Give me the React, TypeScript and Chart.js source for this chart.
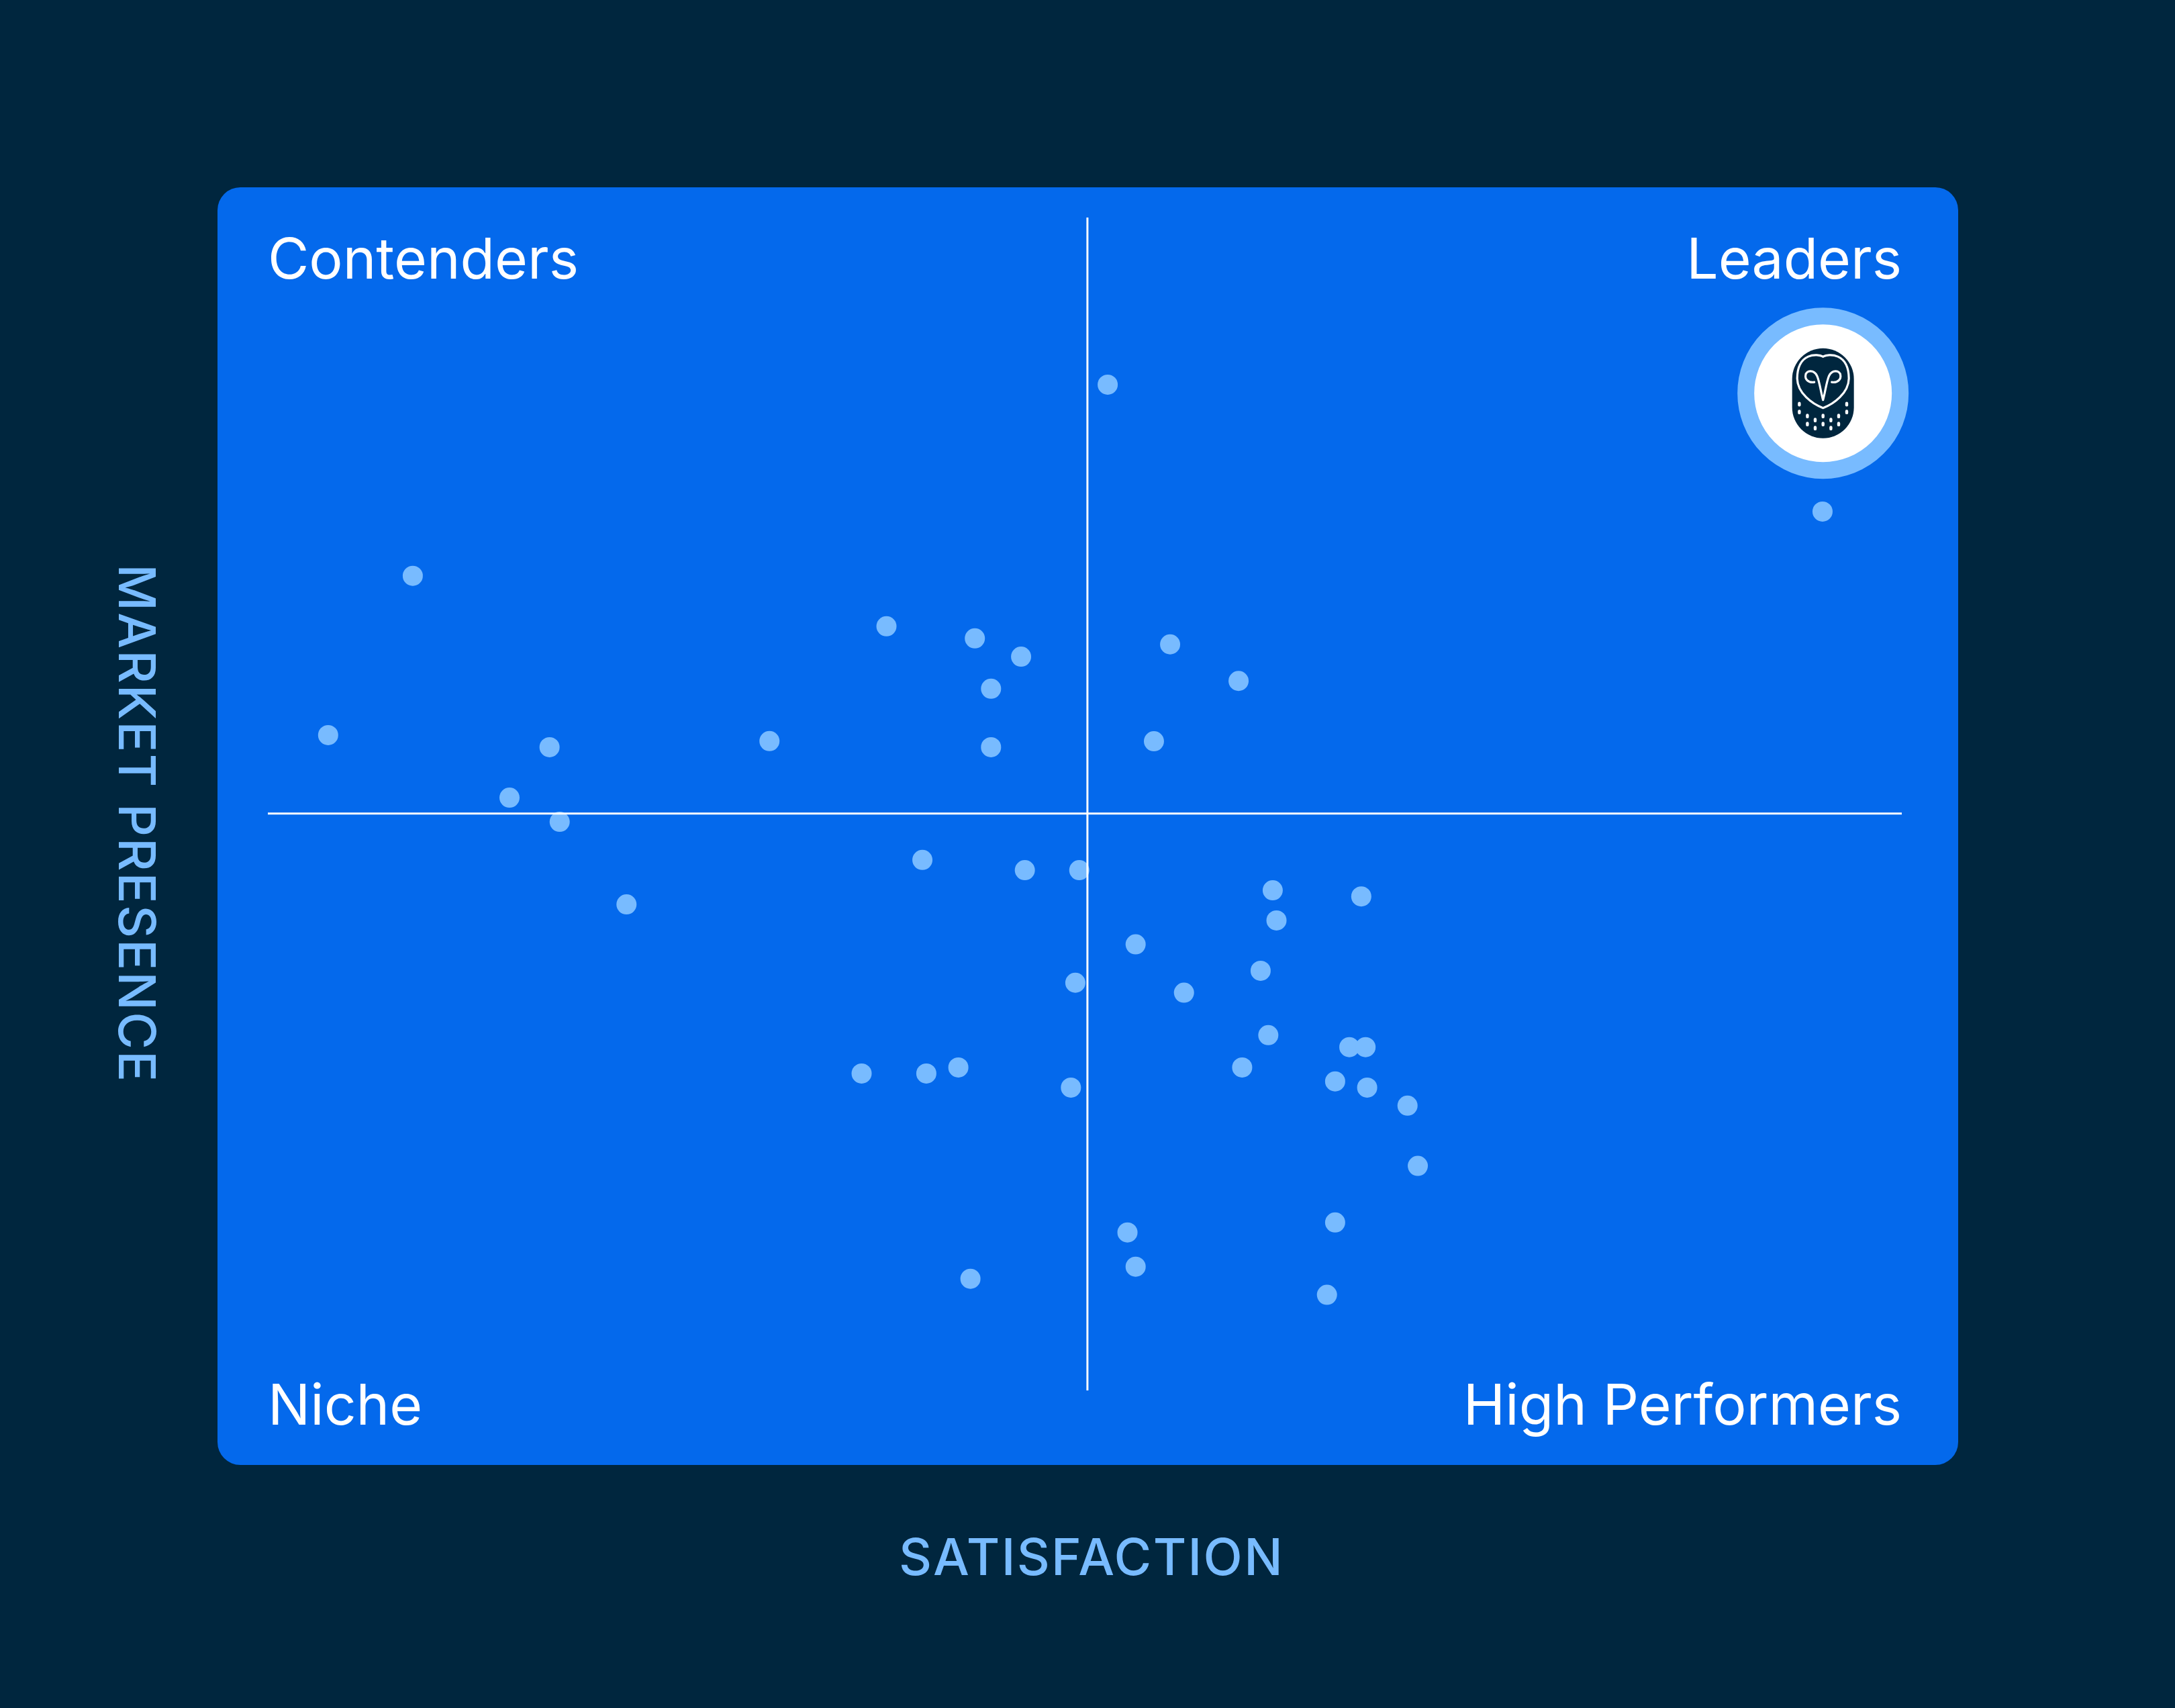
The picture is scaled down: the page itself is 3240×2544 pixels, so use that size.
import React, { useEffect, useRef } from "react";
import { Chart, registerables } from "chart.js";

Chart.register(...registerables);

const vendorSatisfaction = [51.40,95.15,8.87,37.86,43.27,46.10,55.22,59.41,44.26,3.69,17.24,30.70,44.26,54.23,14.79,17.86,21.95,40.06,46.33,49.66,61.50,66.92,61.73,53.11,49.42,56.07,60.76,61.23,66.19,67.18,59.63,65.32,67.28,49.15,69.75,36.34,40.30,42.26,70.38,65.32,52.61,53.11,43.00,64.82];
const vendorPresence = [85.75,74.93,69.45,65.15,64.12,62.56,63.61,60.49,59.83,55.87,54.84,55.36,54.84,55.35,50.54,48.48,41.44,45.23,44.36,44.36,42.64,42.12,40.07,38.03,34.76,33.91,35.78,30.29,29.27,29.27,27.54,26.35,25.82,25.82,24.28,27.02,27.02,27.54,19.14,14.32,13.47,10.55,9.52,8.15];
const leaderSatisfaction = [95.18];
const leaderPresence = [85.02];
const splitSatisfaction = 50.16;
const splitPresence = 49.18;
const quadrantNames = ["Contenders", "Leaders", "Niche", "High Performers"];
const xTitle = "SATISFACTION";
const yTitle = "MARKET PRESENCE";

const BG = "#00263E";
const PANEL = "#0469EC";
const LIGHT = "#78BBFF";

const backdrop = {
  id: "backdrop",
  beforeDraw(chart: any) {
    const { ctx, width, height } = chart;
    ctx.save();
    ctx.fillStyle = BG;
    ctx.fillRect(0, 0, width, height);
    ctx.fillStyle = PANEL;
    ctx.beginPath();
    ctx.roundRect(324, 279, 2593, 1903, 34);
    ctx.fill();
    ctx.restore();
  },
  afterDraw(chart: any) {
    const { ctx, chartArea: a } = chart;
    ctx.save();
    ctx.fillStyle = "#FFFFFF";
    ctx.font = '400 84px Inter';
    ctx.textBaseline = "alphabetic";
    ctx.textAlign = "left";
    ctx.fillText(quadrantNames[0], a.left, 415);
    ctx.fillText(quadrantNames[2], a.left, 2122);
    ctx.textAlign = "right";
    ctx.fillText(quadrantNames[1], a.right, 415);
    ctx.fillText(quadrantNames[3], a.right, 2122);

    ctx.fillStyle = LIGHT;
    ctx.font = '500 76px Inter';
    (ctx as any).letterSpacing = "2.3px";
    ctx.textAlign = "center";
    ctx.fillText(xTitle, 1626, 2346);
    ctx.translate(177, 1227);
    ctx.rotate(Math.PI / 2);
    ctx.fillText(yTitle, 0, 0);
    ctx.restore();

    // owl badge on the highlighted point
    const el = chart.getDatasetMeta(3).data[0];
    ctx.save();
    ctx.translate(el.x, el.y);
    ctx.fillStyle = BG;
    ctx.beginPath();
    ctx.roundRect(-46, -67, 92, 134, 46);
    ctx.fill();
    ctx.strokeStyle = "#FFFFFF";
    ctx.lineWidth = 3.2;
    ctx.lineCap = "round";
    ctx.lineJoin = "round";
    ctx.beginPath();
    ctx.moveTo(0, -54.5);
    ctx.bezierCurveTo(-8, -59, -38, -61, -38.5, -22);
    ctx.bezierCurveTo(-38, 0, -16, 16, 0, 22);
    ctx.bezierCurveTo(16, 16, 38, 0, 38.5, -22);
    ctx.bezierCurveTo(38, -61, 8, -59, 0, -54.5);
    ctx.stroke();
    ctx.beginPath();
    ctx.moveTo(-13, -16.5);
    ctx.bezierCurveTo(-22, -15, -27, -21, -26, -27);
    ctx.bezierCurveTo(-25, -34, -14, -36, -9, -26);
    ctx.bezierCurveTo(-5, -17, -3, 0, 0, 10);
    ctx.bezierCurveTo(3, 0, 5, -17, 9, -26);
    ctx.bezierCurveTo(14, -36, 25, -34, 26, -27);
    ctx.bezierCurveTo(27, -21, 22, -15, 13, -16.5);
    ctx.stroke();
    ctx.fillStyle = "#FFFFFF";
    const spots = [[-35.3,16.3],[-35.3,28],[35.3,16.3],[35.3,28],[-23.3,34],[-23.3,46],[23.3,34],[23.3,46],[-11.7,40],[-11.7,52],[11.7,40],[11.7,52],[0,34],[0,46]];
    for (const [sx, sy] of spots) {
      ctx.beginPath();
      ctx.roundRect(sx - 2.2, sy - 3.4, 4.4, 6.8, 2.2);
      ctx.fill();
    }
    ctx.restore();
  },
};

export default function App() {
  const ref = useRef<HTMLCanvasElement>(null);
  useEffect(() => {
    const chart = new Chart(ref.current!, {
      type: "scatter",
      data: {
        datasets: [
          { label: "Market presence split", data: [{ x: 0, y: splitPresence }, { x: 100, y: splitPresence }], showLine: true, borderColor: "#FFFFFF", borderWidth: 3, pointRadius: 0 },
          { label: "Satisfaction split", data: [{ x: splitSatisfaction, y: 0 }, { x: splitSatisfaction, y: 100 }], showLine: true, borderColor: "#FFFFFF", borderWidth: 3, pointRadius: 0 },
          { label: "Vendors", data: vendorSatisfaction.map((x, i) => ({ x, y: vendorPresence[i] })), backgroundColor: LIGHT, borderWidth: 0, pointRadius: 15, clip: false },
          { label: "Highlighted vendor", data: leaderSatisfaction.map((x, i) => ({ x, y: leaderPresence[i] })), backgroundColor: "#FFFFFF", borderColor: LIGHT, borderWidth: 25, pointRadius: 115, clip: false },
        ],
      },
      options: {
        animation: false,
        responsive: false,
        devicePixelRatio: 1,
        layout: { padding: { left: 399, right: 407, top: 324, bottom: 473 } },
        plugins: { legend: { display: false }, tooltip: { enabled: false }, title: { display: false } },
        scales: {
          x: { type: "linear", min: 0, max: 100, display: false },
          y: { type: "linear", min: 0, max: 100, display: false },
        },
      },
      plugins: [backdrop],
    } as any);
    return () => chart.destroy();
  }, []);
  return (
    <canvas
      ref={ref}
      width={3240}
      height={2544}
      style={{ position: "absolute", left: 0, top: 0, width: 3240, height: 2544, display: "block" }}
    />
  );
}
